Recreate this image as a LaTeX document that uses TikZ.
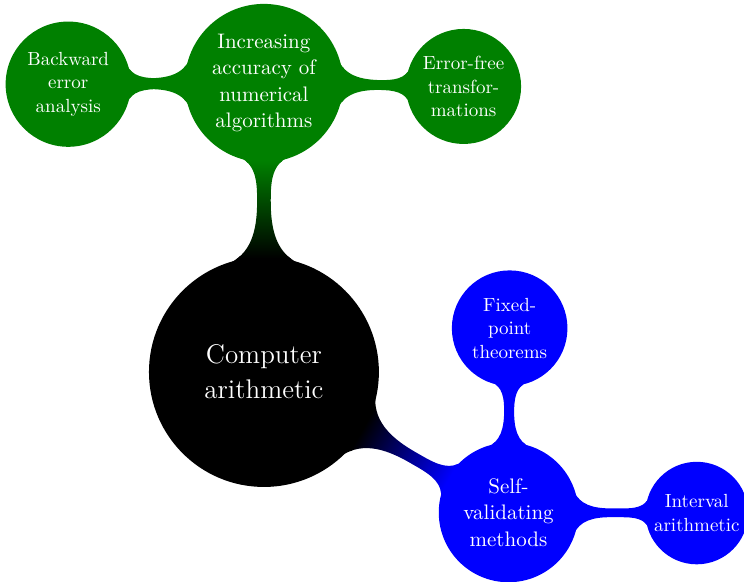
\documentclass[tikz,border=0pt]{standalone}
\usetikzlibrary{mindmap}
\colorlet{leafgreen}{green!50!black}
\begin{document}
\begin{tikzpicture}[mindmap, text=white]

      \tikzset{rootidea/.style={concept, concept color=black, fill=black, inner sep=0pt, font=\fontsize{13.5}{17.5}\selectfont, text width=2.4cm, align=center},
               greenidea/.style={concept, concept color=leafgreen, fill=leafgreen, inner sep=0pt, align=center},
               blueidea/.style={concept, concept color=blue, fill=blue, inner sep=0pt, align=center},
               bigtext/.style={font=\fontsize{10.5}{13.2}\selectfont},
               smalltext/.style={font=\fontsize{9.5}{11.8}\selectfont}}
      \useasboundingbox (-4.64,-3.69) rectangle (8.44,6.54);
%% Concepts
      	\node[rootidea, minimum size=4cm] (comp) at (0,0) {Computer\\arithmetic};
      	\node[greenidea, bigtext, minimum size=2.74cm, text width=1.9cm] (acc) at (0,5.08) {Increasing\\accuracy of\\numerical\\algorithms};
      	\node[greenidea, smalltext, minimum size=2.16cm, text width=1.6cm] (back) at (-3.44,5.06) {Backward\\error\\analysis};
      	\node[greenidea, smalltext, minimum size=1.98cm, text width=1.55cm] (free) at (3.51,5.02) {Error-free\\transfor-\\mations};
      	\node[blueidea, bigtext, minimum size=2.41cm, text width=1.7cm] (self) at (4.30,-2.47) {Self-\\validating\\methods};
      	\node[blueidea, smalltext, minimum size=1.99cm, text width=1.5cm] (fixed) at (4.32,0.77) {Fixed-\\point\\theorems};
      	\node[blueidea, smalltext, minimum size=1.76cm, text width=1.55cm] (interval) at (7.61,-2.48) {Interval\\arithmetic};
%Connections
		\path (comp) to[circle connection bar switch color=from (black) to (leafgreen)] (acc);
		\path (comp) to[circle connection bar switch color=from (black) to (blue)] (self);
		\path (acc) to[circle connection bar switch color=from (leafgreen) to (leafgreen)] (back);
		\path (acc) to[circle connection bar switch color=from (leafgreen) to (leafgreen)] (free);
		\path (self) to[circle connection bar switch color=from (blue) to (blue)] (fixed);
		\path (self) to[circle connection bar switch color=from (blue) to (blue)] (interval);

	\end{tikzpicture}
\end{document}
